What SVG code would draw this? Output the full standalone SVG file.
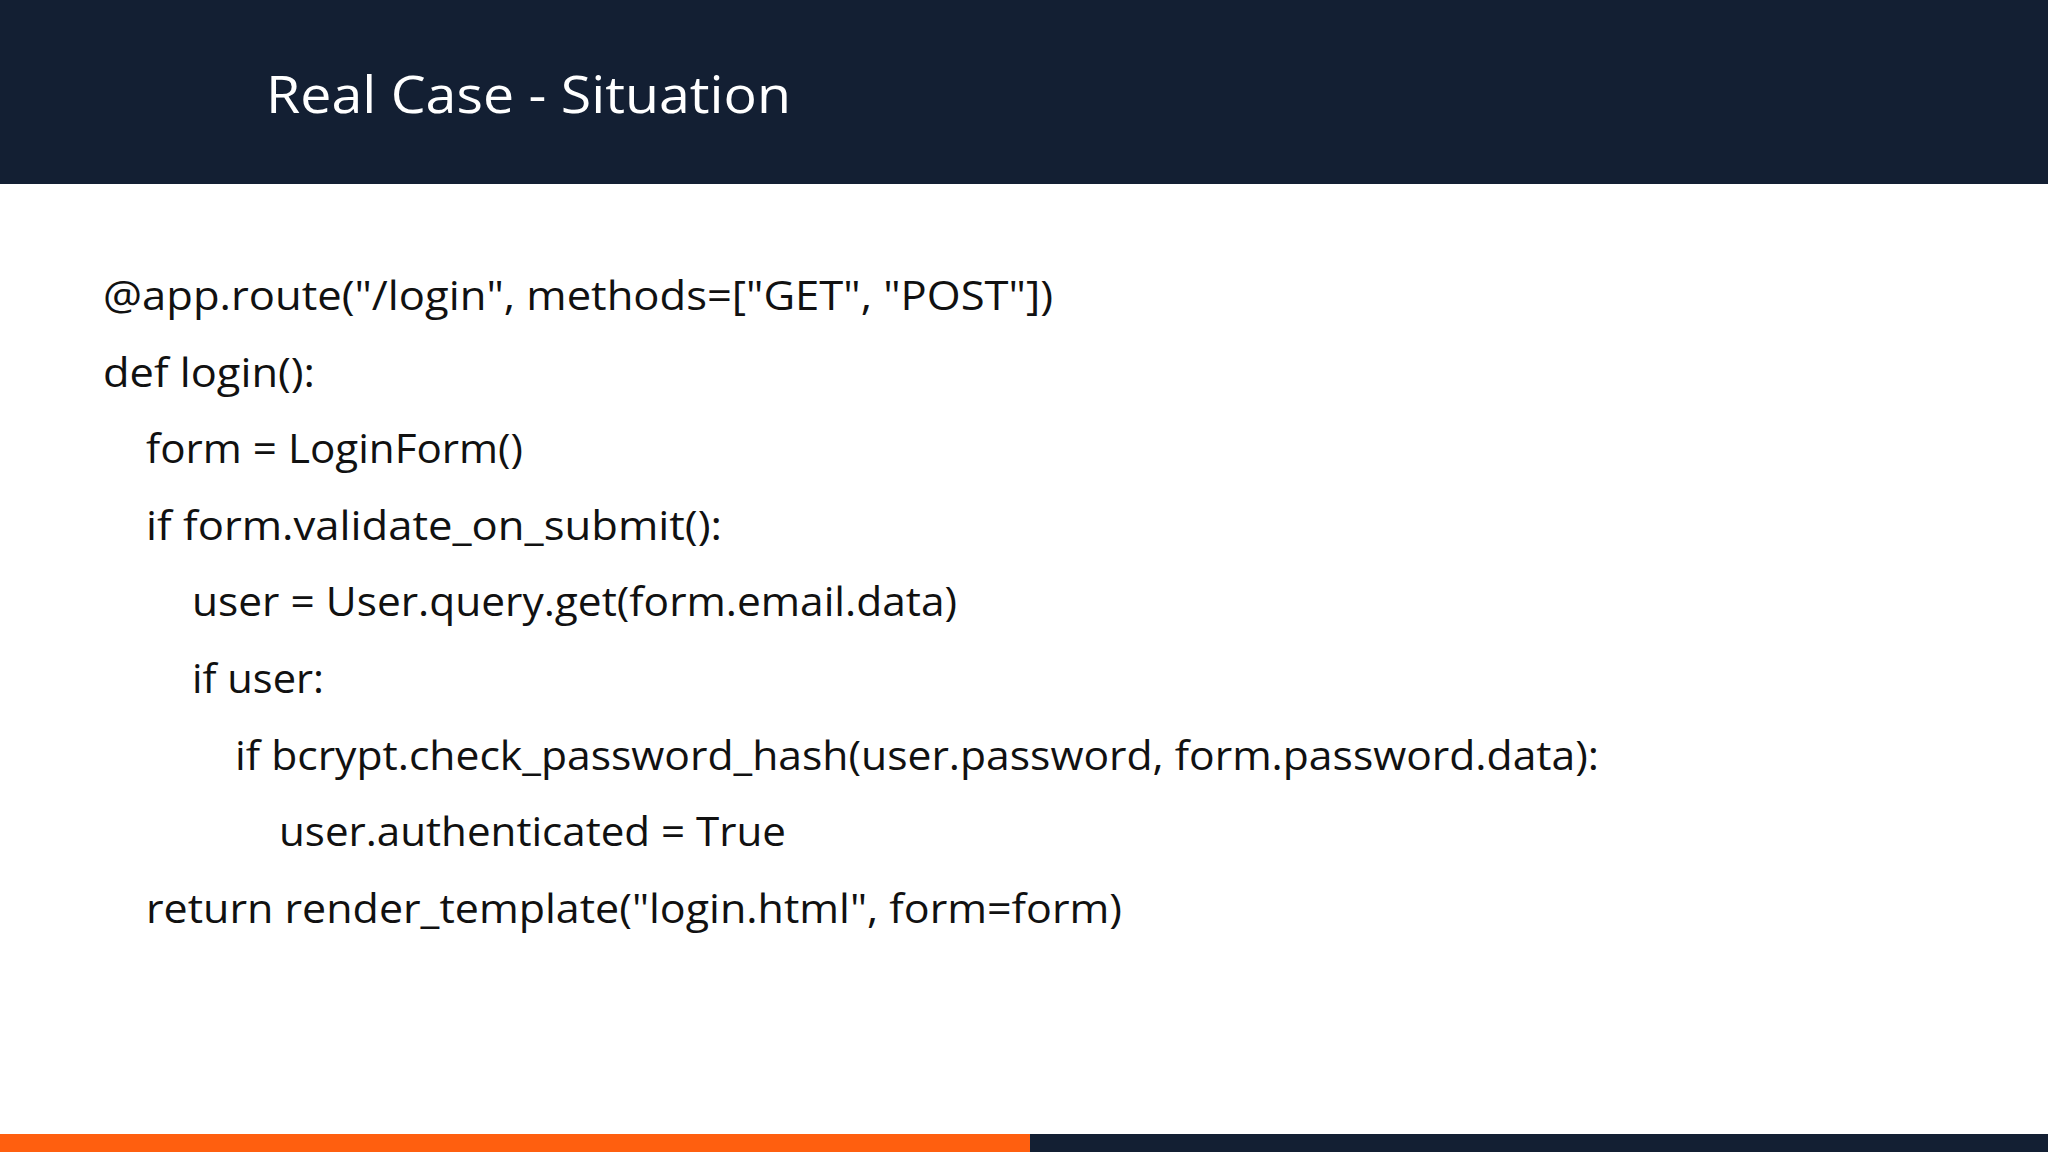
<svg xmlns="http://www.w3.org/2000/svg" width="2048" height="1152" viewBox="0 0 2048 1152">
<style>
.code{font-family:"Open Sans","Liberation Sans",sans-serif;font-size:41px;fill:#111;}
.title{font-family:"Open Sans","Liberation Sans",sans-serif;font-size:52px;fill:#fff;}
</style>
<rect width="2048" height="1152" fill="#fff"/>
<rect width="2048" height="184" fill="#131f33"/>
<text class="title" x="266" y="113" textLength="525" lengthAdjust="spacingAndGlyphs">Real Case - Situation</text>
<g id="code">
<text class="code" x="103" y="310" textLength="950" lengthAdjust="spacingAndGlyphs">@app.route("/login", methods=["GET", "POST"])</text>
<text class="code" x="103" y="387" textLength="212" lengthAdjust="spacingAndGlyphs">def login():</text>
<text class="code" x="146" y="463" textLength="377" lengthAdjust="spacingAndGlyphs">form = LoginForm()</text>
<text class="code" x="146" y="540" textLength="576" lengthAdjust="spacingAndGlyphs">if form.validate_on_submit():</text>
<text class="code" x="192" y="616" textLength="765" lengthAdjust="spacingAndGlyphs">user = User.query.get(form.email.data)</text>
<text class="code" x="192" y="693" textLength="132" lengthAdjust="spacingAndGlyphs">if user:</text>
<text class="code" x="235" y="770" textLength="1364" lengthAdjust="spacingAndGlyphs">if bcrypt.check_password_hash(user.password, form.password.data):</text>
<text class="code" x="279" y="846" textLength="507" lengthAdjust="spacingAndGlyphs">user.authenticated = True</text>
<text class="code" x="146" y="923" textLength="976" lengthAdjust="spacingAndGlyphs">return render_template("login.html", form=form)</text>
</g>
<rect x="0" y="1134" width="1030" height="18" fill="#ff5f0f"/>
<rect x="1030" y="1134" width="1018" height="18" fill="#131f33"/>
</svg>
